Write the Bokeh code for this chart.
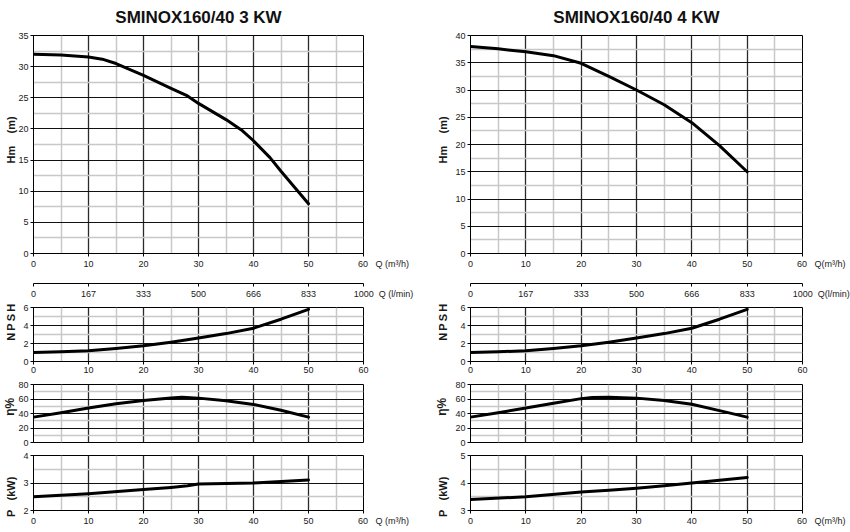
from bokeh.plotting import figure
from bokeh.models import Range1d, FixedTicker
from bokeh.layouts import row, column
from bokeh.embed import file_html
from bokeh.resources import INLINE

# ---------------- data ----------------
titles = ["SMINOX160/40 3 KW", "SMINOX160/40 4 KW"]
q_unit_labels = ["Q (m³/h)", "Q(m³/h)"]
lmin_unit_labels = ["Q (l/min)", "Q(l/min)"]
q_ticks = [0, 10, 20, 30, 40, 50, 60]
q_labels = ["0", "10", "20", "30", "40", "50", "60"]
lmin_labels = ["0", "167", "333", "500", "666", "833", "1000"]

# head curves
h3_q = [0, 5, 10, 12.5, 15, 20, 25, 28, 30, 35, 38, 40, 43, 45, 50]
h3 = [32.0, 31.85, 31.55, 31.2, 30.5, 28.6, 26.5, 25.3, 24.1, 21.5, 19.7, 18.1, 15.4, 13.2, 8.0]
h4_q = [0, 5, 10, 15, 20, 25, 30, 35, 40, 45, 50]
h4 = [38.0, 37.55, 37.0, 36.3, 34.9, 32.5, 30.0, 27.3, 24.0, 19.8, 15.0]

# NPSH curves
n3_q = [0, 5, 10, 15, 20, 25, 30, 35, 40, 45, 50]
n3 = [1.0, 1.08, 1.2, 1.45, 1.75, 2.15, 2.6, 3.1, 3.7, 4.7, 5.8]
n4_q = [0, 5, 10, 15, 20, 25, 30, 35, 40, 45, 50]
n4 = [1.0, 1.08, 1.2, 1.45, 1.75, 2.15, 2.6, 3.1, 3.7, 4.7, 5.8]

# efficiency curves
e3_q = [0, 5, 10, 15, 20, 25, 27, 30, 35, 40, 45, 50]
e3 = [35, 41, 47.5, 53.5, 57.8, 61.5, 62.3, 61.2, 57.5, 52.5, 44.5, 35]
e4_q = [0, 5, 10, 15, 20, 22, 25, 30, 35, 40, 45, 50]
e4 = [35, 41, 47.5, 54, 60.5, 62, 62.4, 61.2, 58, 52.7, 44, 35]

# power curves
p3_q = [0, 10, 20, 25, 28, 30, 40, 50]
p3 = [2.5, 2.61, 2.76, 2.84, 2.9, 2.96, 3.0, 3.11]
p4_q = [0, 10, 20, 25, 30, 35, 40, 45, 50]
p4 = [3.4, 3.5, 3.67, 3.74, 3.81, 3.9, 4.0, 4.1, 4.2]

# axis ticks
hm3_ticks = [0, 5, 10, 15, 20, 25, 30, 35]
hm4_ticks = [0, 5, 10, 15, 20, 25, 30, 35, 40]
npsh_ticks = [0, 2, 4, 6]
eta_ticks = [0, 20, 40, 60, 80]
p3_ticks = [2, 3, 4]
p4_ticks = [3, 4, 5]

FONT = "Liberation Sans"
NB = "\u00a0"


def mids(t):
    return [(a + b) / 2 for a, b in zip(t[:-1], t[1:])]


def with_unit(labels, unit, lead, gap):
    """Last tick label followed by the unit text, padded so the number stays centred."""
    out = {t: l for t, l in zip(q_ticks, labels)}
    out[q_ticks[-1]] = NB * lead + labels[-1] + NB * gap + unit
    return out


def style_axis(ax):
    ax.major_tick_out = 3
    ax.major_tick_in = 0
    ax.minor_tick_out = 0
    ax.minor_tick_in = 0
    ax.major_label_standoff = 2
    ax.axis_line_color = "black"
    ax.axis_line_width = 1
    ax.major_tick_line_color = "black"
    ax.major_label_text_font = FONT
    ax.major_label_text_font_size = "9px"
    ax.major_label_text_color = "#1a1a1a"
    ax.axis_label_text_font = FONT
    ax.axis_label_text_font_style = "bold"
    ax.axis_label_text_font_size = "11px"
    ax.axis_label_text_color = "#1a1a1a"


def panel(width, height, bl, br, bt, bb, ticks, show_x, title=None):
    kw = dict(title=title) if title else {}
    p = figure(width=width, height=height,
               x_range=Range1d(q_ticks[0], q_ticks[-1]),
               y_range=Range1d(ticks[0], ticks[-1]),
               output_backend="svg", toolbar_location=None,
               min_border_left=bl, min_border_right=br,
               min_border_top=bt, min_border_bottom=bb, **kw)
    p.background_fill_color = "white"
    p.border_fill_color = "white"
    p.outline_line_color = "black"
    p.outline_line_width = 1
    p.outline_line_alpha = 1
    xt = FixedTicker(ticks=q_ticks, minor_ticks=mids(q_ticks))
    yt = FixedTicker(ticks=ticks, minor_ticks=mids(ticks))
    p.xaxis.ticker = xt
    p.yaxis.ticker = yt
    p.xgrid.ticker = xt
    p.ygrid.ticker = yt
    for ax in p.xaxis + p.yaxis:
        style_axis(ax)
    if not show_x:
        p.xaxis.visible = False
    p.xgrid.grid_line_color = "#2a2a2a"
    p.xgrid.grid_line_width = 1.3
    p.xgrid.minor_grid_line_color = "#c8c8c8"
    p.xgrid.minor_grid_line_width = 1.5
    p.ygrid.grid_line_color = "#111111"
    p.ygrid.grid_line_width = 1
    p.ygrid.minor_grid_line_color = "#c8c8c8"
    p.ygrid.minor_grid_line_width = 1.5
    return p


def build(idx, hq, hv, hticks, nq, nv, eq, ev, pq, pv, pticks, bl, br, st2, st1):
    W = 425
    pad_q = 16 if idx == 0 else 15
    pad_l = 16 if idx == 0 else 15
    # ---- head panel ----
    a = panel(W, 282, bl, br, 34, 29, hticks, True, title=titles[idx])
    a.title.align = "center"
    a.title.vertical_align = "top"
    a.title.text_font = FONT
    a.title.text_font_style = "bold"
    a.title.text_font_size = "17px"
    a.title.text_color = "#111111"
    a.title.text_line_height = 1.0
    a.title.standoff = 14
    a.line(hq, hv, line_width=3, color="black", line_join="round", line_cap="round")
    a.xaxis.major_label_overrides = with_unit(q_labels, q_unit_labels[idx], pad_q, 3)
    a.yaxis.axis_label = NB * 3 + "Hm" + NB * 4 + "(m)"
    a.yaxis.axis_label_standoff = st2

    # ---- l/min scale (axis only) ----
    l = figure(width=W, height=19, x_range=a.x_range, y_range=Range1d(0, 1),
               output_backend="svg", toolbar_location=None,
               min_border_left=bl, min_border_right=br,
               min_border_top=1, min_border_bottom=17)
    l.outline_line_color = None
    l.background_fill_color = "white"
    l.border_fill_color = "white"
    l.grid.visible = False
    l.yaxis.visible = False
    l.xaxis.ticker = FixedTicker(ticks=q_ticks)
    style_axis(l.xaxis[0])
    l.xaxis.major_label_overrides = with_unit(lmin_labels, lmin_unit_labels[idx], pad_l, 2)

    # ---- NPSH panel ----
    b = panel(W, 78, bl, br, 6, 18, npsh_ticks, True)
    b.line(nq, nv, line_width=3, color="black", line_join="round", line_cap="round")
    b.yaxis.axis_label = NB * 8 + "N\u2009P\u2009S\u2009H"
    b.yaxis.axis_label_standoff = st1

    # ---- efficiency panel ----
    c = panel(W, 68, bl, br, 5, 5, eta_ticks, False)
    c.line(eq, ev, line_width=3, color="black", line_join="round", line_cap="round")
    c.yaxis.axis_label = NB * 4 + "η%"
    c.yaxis.axis_label_text_font_size = "12px"
    c.yaxis.axis_label_standoff = st2

    # ---- power panel ----
    d = panel(W, 83, bl, br, 8, 20, pticks, True)
    d.line(pq, pv, line_width=3, color="black", line_join="round", line_cap="round")
    d.xaxis.major_label_overrides = with_unit(q_labels, q_unit_labels[idx], pad_q, 3)
    d.yaxis.axis_label = "P" + NB * 3 + "(kW)" + NB * 9
    d.yaxis.axis_label_standoff = st1

    return column(a, l, b, c, d)


left = build(0, h3_q, h3, hm3_ticks, n3_q, n3, e3_q, e3, p3_q, p3, p3_ticks, 33, 62, -2, 3)
right = build(1, h4_q, h4, hm4_ticks, n4_q, n4, e4_q, e4, p4_q, p4, p4_ticks, 45, 48, 3, 8)
layout = row(left, right)

open("out.html", "w").write(file_html(layout, INLINE))
